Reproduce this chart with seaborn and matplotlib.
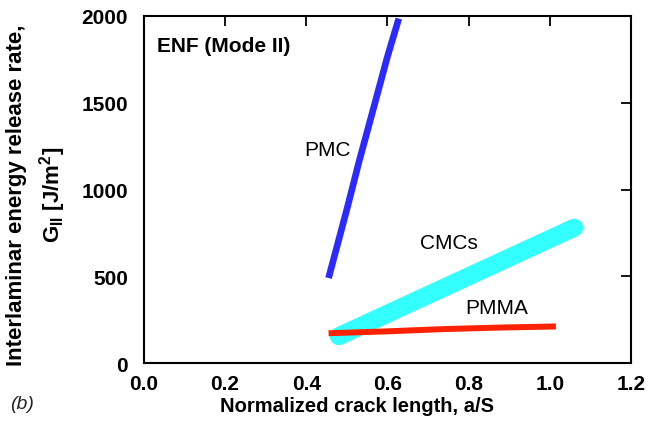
import matplotlib
matplotlib.use("Agg")
import matplotlib.pyplot as plt
import seaborn as sns
import pandas as pd

# Mode II (ENF) interlaminar energy release rate vs. normalized crack length
pmc_x = [0.455, 0.50, 0.53, 0.565, 0.60, 0.628]
pmc_g = [490, 885, 1160, 1462, 1765, 1985]

cmc_x = [0.48, 0.80, 1.06]
cmc_g = [155, 500, 780]

pmma_x = [0.455, 0.60, 0.74, 0.88, 1.015]
pmma_g = [172, 183, 196, 205, 211]

x_ticks = [0.0, 0.2, 0.4, 0.6, 0.8, 1.0, 1.2]
y_ticks = [0, 500, 1000, 1500, 2000]

sns.set_style("white")
plt.rcParams["font.family"] = ["Liberation Sans", "DejaVu Sans"]
plt.rcParams["text.color"] = "black"
plt.rcParams["axes.labelcolor"] = "black"
plt.rcParams["xtick.color"] = "black"
plt.rcParams["ytick.color"] = "black"
plt.rcParams["mathtext.fontset"] = "custom"
plt.rcParams["mathtext.rm"] = "Liberation Sans:bold"
plt.rcParams["mathtext.bf"] = "Liberation Sans:bold"
plt.rcParams["mathtext.default"] = "rm"

fig = plt.figure(figsize=(6.6, 4.35), dpi=100)
ax = fig.add_axes([0.218, 0.163, 0.738, 0.798])

cmc = pd.DataFrame({"x": cmc_x, "g": cmc_g})
pmma = pd.DataFrame({"x": pmma_x, "g": pmma_g})
pmc = pd.DataFrame({"x": pmc_x, "g": pmc_g})

sns.lineplot(data=cmc, x="x", y="g", color="#33ffff", linewidth=13,
             solid_capstyle="round", sort=False, estimator=None, ax=ax)
sns.lineplot(data=pmma, x="x", y="g", color="#ff2200", linewidth=4.3,
             solid_capstyle="butt", sort=False, estimator=None, ax=ax)
sns.lineplot(data=pmc, x="x", y="g", color="#2b2bff", linewidth=4.8,
             solid_capstyle="butt", solid_joinstyle="round", sort=False,
             estimator=None, ax=ax)

ax.set_xlim(0, 1.2)
ax.set_ylim(0, 2000)
ax.set_xticks(x_ticks)
ax.set_yticks(y_ticks)
ax.set_xticklabels([f"{v:.1f}" for v in x_ticks])
ax.set_yticklabels([str(v) for v in y_ticks])

for side in ["left", "right", "top", "bottom"]:
    ax.spines[side].set_visible(True)
    ax.spines[side].set_color("black")
    ax.spines[side].set_linewidth(1.5)

ax.tick_params(axis="both", which="major", direction="in", length=7, width=1.3,
               top=True, right=True, colors="black", labelcolor="black")
ax.tick_params(axis="y", pad=11.5)
ax.tick_params(axis="x", pad=8)
for lab in ax.get_xticklabels() + ax.get_yticklabels():
    lab.set_fontsize(15)
    lab.set_fontweight("bold")

ax.set_xlabel("Normalized crack length, a/S", fontsize=14.5, fontweight="bold",
              color="black")
ax.xaxis.set_label_coords(0.437, -0.095)
ax.set_ylabel("")

fig.text(17 / 660, 0.552, "Interlaminar energy release rate,", rotation=90,
         fontsize=16, fontweight="bold", ha="center", va="center")
fig.text(53 / 660, 0.552, r"G$_{II}$ [J/m$^{2}$]", rotation=90,
         fontsize=16, fontweight="bold", ha="center", va="center")

fig.text(10 / 660, 1 - 405 / 435, "(b)", fontsize=14, fontstyle="italic",
         ha="left", va="center", color="#222222")

ax.text(0.027, 0.916, "ENF (Mode II)", transform=ax.transAxes, fontsize=15,
        fontweight="bold", ha="left", va="center")
ax.text(0.453, 1233, "PMC", fontsize=15, ha="center", va="center")
ax.text(0.752, 697, "CMCs", fontsize=15, ha="center", va="center")
ax.text(0.869, 323, "PMMA", fontsize=15, ha="center", va="center")

fig.savefig("out.png", dpi=100)
